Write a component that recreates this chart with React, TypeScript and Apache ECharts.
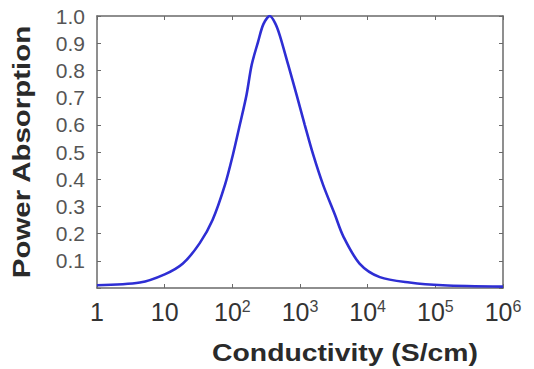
import React, { useEffect, useRef } from "react";
import * as echarts from "echarts";

// Conductivity (S/cm) sample points
const conductivity = [
  1, 4.3, 10, 18.6, 33, 51, 78, 102, 129, 162, 193, 240, 288, 359, 427, 501, 670,
  891, 1175, 1567, 2188, 3273, 4365, 7586, 15136, 41687, 128825, 1000000,
];
// Normalised power absorption at each conductivity
const absorption = [
  0.01, 0.02, 0.05, 0.09, 0.165, 0.25, 0.38, 0.49, 0.6, 0.71, 0.82, 0.905, 0.97, 1.0,
  0.975, 0.93, 0.82, 0.71, 0.6, 0.49, 0.38, 0.27, 0.19, 0.09, 0.04, 0.02, 0.01, 0.005,
];
const xMin = 1;
const xMax = 1000000;
const yMin = 0;
const yMax = 1;
const yStep = 0.1;
const xTitle = "Conductivity (S/cm)";
const yTitle = "Power Absorption";

const FONT = "'Liberation Sans', Arial, Helvetica, sans-serif";

export default function App() {
  const ref = useRef<HTMLDivElement>(null);
  useEffect(() => {
    if (!ref.current) return;
    const chart = echarts.init(ref.current, null, { renderer: "svg" });
    const data = conductivity.map((c, i) => [c, absorption[i]]);
    const axisColor = "#6a6a6a";
    chart.setOption({
      animation: false,
      backgroundColor: "#ffffff",
      grid: { left: 97, right: 31, top: 16, bottom: 81 },
      xAxis: [
        {
          type: "log",
          logBase: 10,
          min: xMin,
          max: xMax,
          axisLine: { show: true, onZero: false, lineStyle: { color: axisColor, width: 1.5 } },
          axisTick: { show: true, inside: true, length: 4, lineStyle: { color: axisColor } },
          splitLine: { show: false },
          axisLabel: {
            margin: 10,
            color: "#333",
            fontFamily: FONT,
            fontSize: 25,
            formatter: (v: number) => {
              const e = Math.round(Math.log10(v));
              if (e === 0) return "{b|1}";
              if (e === 1) return "{b|10}";
              return `{b|10}{s|${e}}`;
            },
            rich: {
              b: { fontFamily: FONT, fontSize: 25, color: "#333", lineHeight: 28 },
              s: { fontFamily: FONT, fontSize: 16, color: "#444", verticalAlign: "top", lineHeight: 28, padding: [0, 0, 10, 0] },
            },
          },
        },
        {
          type: "log",
          logBase: 10,
          min: xMin,
          max: xMax,
          position: "top",
          axisLine: { show: true, onZero: false, lineStyle: { color: axisColor, width: 1.5 } },
          axisTick: { show: true, inside: true, length: 4, lineStyle: { color: axisColor } },
          axisLabel: { show: false },
          splitLine: { show: false },
        },
      ],
      yAxis: [
        {
          type: "value",
          min: yMin,
          max: yMax,
          interval: yStep,
          axisLine: { show: true, onZero: false, lineStyle: { color: axisColor, width: 1.5 } },
          axisTick: { show: true, inside: true, length: 4, lineStyle: { color: axisColor } },
          splitLine: { show: false },
          axisLabel: {
            margin: 12,
            color: "#555",
            fontFamily: FONT,
            fontSize: 21,
            formatter: (v: number) => (v === 0 ? "" : v.toFixed(1)),
          },
        },
        {
          type: "value",
          min: yMin,
          max: yMax,
          interval: yStep,
          position: "right",
          axisLine: { show: true, onZero: false, lineStyle: { color: axisColor, width: 1.5 } },
          axisTick: { show: true, inside: true, length: 4, lineStyle: { color: axisColor } },
          axisLabel: { show: false },
          splitLine: { show: false },
        },
      ],
      series: [
        {
          type: "line",
          xAxisIndex: 0,
          yAxisIndex: 0,
          data,
          smooth: 0.3,
          showSymbol: false,
          symbol: "none",
          lineStyle: { color: "#2e2ed4", width: 2.6 },
        },
      ],
      graphic: [
        {
          type: "text",
          x: 345,
          y: 353,
          scaleX: 1.18,
          style: {
            text: xTitle,
            fontFamily: FONT,
            fontSize: 24,
            fontWeight: "bold",
            fill: "#2a2a2a",
            align: "center",
            verticalAlign: "middle",
          },
        },
        {
          type: "text",
          x: 22,
          y: 152,
          rotation: Math.PI / 2,
          scaleX: 1.28,
          style: {
            text: yTitle,
            fontFamily: FONT,
            fontSize: 23,
            fontWeight: "bold",
            fill: "#2a2a2a",
            align: "center",
            verticalAlign: "middle",
          },
        },
      ],
    });
    return () => chart.dispose();
  }, []);
  return (
    <div
      ref={ref}
      style={{ width: 534, height: 369, position: "absolute", left: 0, top: 0 }}
    />
  );
}
